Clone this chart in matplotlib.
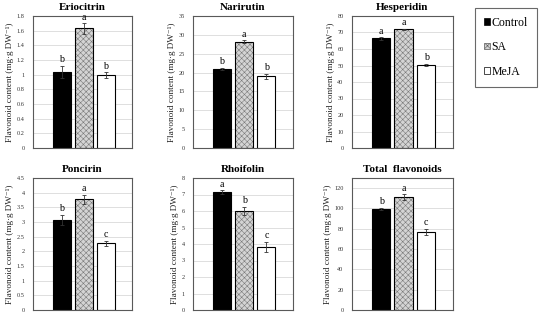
import matplotlib
matplotlib.use('Agg')
import matplotlib.pyplot as plt
from matplotlib.patches import Patch

# serif font, close to Times New Roman
plt.rcParams['font.family'] = ['Liberation Serif', 'DejaVu Serif']
plt.rcParams['hatch.linewidth'] = 0.4

# data
treatments = ['Control', 'SA', 'MeJA']
titles = ['Eriocitrin', 'Narirutin', 'Hesperidin', 'Poncirin', 'Rhoifolin', 'Total  flavonoids']

eriocitrin = [1.04, 1.63, 0.99]
eriocitrin_err = [0.08, 0.07, 0.04]
narirutin = [21.0, 28.2, 19.0]
narirutin_err = [0.3, 0.4, 0.7]
hesperidin = [66.4, 71.9, 50.4]
hesperidin_err = [0.8, 0.5, 0.5]
poncirin = [3.07, 3.77, 2.27]
poncirin_err = [0.17, 0.15, 0.08]
rhoifolin = [7.15, 6.0, 3.82]
rhoifolin_err = [0.1, 0.25, 0.3]
total = [99.3, 111.3, 76.8]
total_err = [1.2, 2.5, 3.0]

letters = [['b', 'a', 'b'], ['b', 'a', 'b'], ['a', 'a', 'b'],
           ['b', 'a', 'c'], ['a', 'b', 'c'], ['b', 'a', 'c']]

y_limits = [1.8, 35, 80, 4.5, 8, 130]
y_steps = [0.2, 5, 10, 0.5, 1, 20]

values = [eriocitrin, narirutin, hesperidin, poncirin, rhoifolin, total]
errors = [eriocitrin_err, narirutin_err, hesperidin_err, poncirin_err, rhoifolin_err, total_err]

W, H = 550, 320
fig = plt.figure(figsize=(5.5, 3.2), dpi=100)

# axes boxes in pixels: left, top, right, bottom
col_x = [(33, 132), (193, 293), (352, 453)]
row_y = [(16, 148), (178, 310)]

ylabel = 'Flavonoid content (mg·g DW⁻¹)'
x = [0, 1, 2]
bar_w = 0.82

for i in range(6):
    r, c = divmod(i, 3)
    x0, x1 = col_x[c]
    y0, y1 = row_y[r]
    ax = fig.add_axes([x0 / W, 1 - y1 / H, (x1 - x0) / W, (y1 - y0) / H])

    vals = values[i]
    errs = errors[i]

    # grid lines behind bars
    ticks = []
    t = 0.0
    while t <= y_limits[i] + 1e-9:
        ticks.append(round(t, 4))
        t += y_steps[i]
    for tk in ticks[1:]:
        ax.axhline(tk, color='#d9d9d9', linewidth=0.6, zorder=0)

    # Control
    ax.bar(x[0], vals[0], width=bar_w, color='black', edgecolor='black', linewidth=0.8, zorder=2)
    # SA: gray crosshatch then black outline
    ax.bar(x[1], vals[1], width=bar_w, color='#d4d4d4', edgecolor='#7a7a7a', hatch='xxxxxx',
           linewidth=0, zorder=2)
    ax.bar(x[1], vals[1], width=bar_w, fill=False, edgecolor='black', linewidth=0.8, zorder=3)
    # MeJA
    ax.bar(x[2], vals[2], width=bar_w, color='white', edgecolor='black', linewidth=0.8, zorder=2)

    ax.errorbar(x, vals, yerr=errs, fmt='none', ecolor='#333333', elinewidth=0.6,
                capsize=1.5, capthick=0.6, zorder=4)

    # significance letters
    for j in range(3):
        ax.text(x[j], vals[j] + errs[j] + y_limits[i] * 0.012, letters[i][j],
                ha='center', va='bottom', fontsize=7.2)

    ax.set_xlim(-1.3, 3.2)
    ax.set_ylim(0, y_limits[i])
    ax.set_yticks(ticks)
    ax.set_yticklabels(['{:g}'.format(tk) for tk in ticks])
    ax.set_xticks([])
    ax.tick_params(axis='y', labelsize=4.5, length=0, pad=6, colors='#333333')
    for sp in ax.spines.values():
        sp.set_color('#595959')
        sp.set_linewidth(0.8)

    ax.set_title(titles[i], fontsize=8, fontweight='bold', pad=4.5)
    ax.set_ylabel(ylabel, fontsize=6.6, labelpad=2, color='#222222')

# legend box
handles = [Patch(facecolor='black', edgecolor='black', linewidth=0.5),
           Patch(facecolor='#d4d4d4', edgecolor='#555555', hatch='xxxx', linewidth=0.5),
           Patch(facecolor='white', edgecolor='black', linewidth=0.5)]
leg = fig.legend(handles, treatments, loc='upper left',
                 bbox_to_anchor=(475 / W, 1 - 8 / H), borderaxespad=0, fontsize=8.5,
                 handlelength=0.5, handleheight=0.5, handletextpad=0.15,
                 labelspacing=1.05, borderpad=0.75, fancybox=False, frameon=True)
leg.get_frame().set_edgecolor('#444444')
leg.get_frame().set_linewidth(0.8)

plt.savefig('out.png', dpi=100)
plt.close()
